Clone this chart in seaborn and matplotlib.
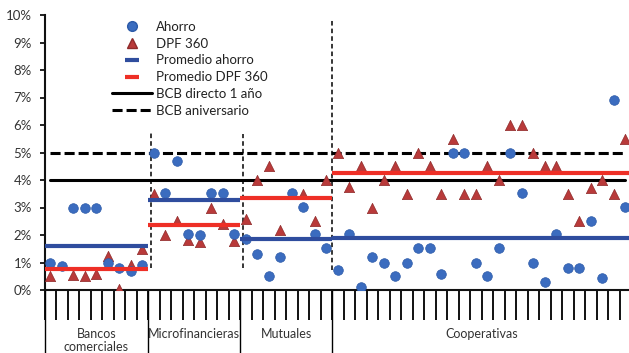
import numpy as np
import pandas as pd
import seaborn as sns
from matplotlib import pyplot as plt
from matplotlib.lines import Line2D
from matplotlib.ticker import PercentFormatter, MultipleLocator

# --- datos (en %) ---
grupos = ["Bancos\ncomerciales", "Microfinancieras", "Mutuales", "Cooperativas"]

ahorro_bancos = [1.0, 0.87, 3.0, 3.0, 3.0, 1.0, 0.8, 0.7, 0.9]
dpf_bancos = [0.5, np.nan, 0.55, 0.5, 0.6, 1.25, 0.05, 0.9, 1.5]

ahorro_micro = [5.0, 3.52, 4.7, 2.02, 2.0, 3.52, 3.52, 2.02]
dpf_micro = [3.5, 2.0, 2.52, 1.82, 1.75, 3.0, 2.4, 1.8]

ahorro_mutuales = [1.84, 1.31, 0.51, 1.21, 3.52, 3.02, 2.02, 1.52]
dpf_mutuales = [2.6, 4.0, 4.5, 2.2, 3.5, 3.5, 2.52, 4.0]

ahorro_coop = [0.73, 2.02, 0.1, 1.21, 1.0, 0.51, 1.0, 1.52, 1.52, 0.57, 5.0, 5.0, 1.0,
               0.51, 1.52, 5.0, 3.52, 1.0, 0.3, 2.02, 0.81, 0.81, 2.52, 0.42, 6.9, 3.02]
dpf_coop = [5.0, 3.76, 4.5, 3.0, 4.0, 4.5, 3.5, 5.0, 4.5, 3.5, 5.5, 3.5, 3.5,
            4.5, 4.0, 6.0, 6.0, 5.0, 4.5, 4.5, 3.5, 2.52, 3.7, 4.0, 3.5, 5.5]

prom_ahorro = [1.6, 3.28, 1.87, 1.9]
prom_dpf = [0.75, 2.35, 3.35, 4.25]

bcb_directo = 4.0
bcb_aniversario = 5.0

ahorro = [ahorro_bancos, ahorro_micro, ahorro_mutuales, ahorro_coop]
dpf = [dpf_bancos, dpf_micro, dpf_mutuales, dpf_coop]

AZUL = "#3b6cbf"
ROJO = "#b93a3a"
AZUL_PROM = "#2f4d9e"
ROJO_PROM = "#ee2f26"


def armar_df():
    filas = []
    pos = 0
    for g, a, d in zip(grupos, ahorro, dpf):
        for va, vd in zip(a, d):
            filas.append({"pos": pos, "grupo": g, "serie": "Ahorro", "valor": va})
            filas.append({"pos": pos, "grupo": g, "serie": "DPF 360", "valor": vd})
            pos += 1
    return pd.DataFrame(filas)


def main():
    sns.set_style("ticks")
    plt.rcParams["font.family"] = ["Lato", "DejaVu Sans"]

    df = armar_df()
    n = df["pos"].max() + 1
    tam = [len(a) for a in ahorro]
    bordes = np.concatenate([[0], np.cumsum(tam)]) - 0.5

    fig = plt.figure(figsize=(6.29, 3.53), dpi=100)
    ax = fig.add_axes([44.5 / 629, 63 / 353, 586.5 / 629, 275 / 353])

    # líneas BCB de referencia
    xs = np.arange(n)
    sns.lineplot(x=xs, y=[bcb_directo] * n, color="black", lw=2.2, ax=ax, zorder=1)
    sns.lineplot(x=xs, y=[bcb_aniversario] * n, color="black", lw=2.2, ax=ax, zorder=1,
                 linestyle=(0, (3.3, 1.3)))

    # puntos
    sns.scatterplot(data=df[df.serie == "DPF 360"], x="pos", y="valor", marker="^",
                    color=ROJO, edgecolor="#8e2a2a", linewidth=0.5, s=55, ax=ax,
                    zorder=3, legend=False)
    sns.scatterplot(data=df[df.serie == "Ahorro"], x="pos", y="valor", marker="o",
                    color=AZUL, edgecolor="#2c5aa8", linewidth=0.5, s=48, ax=ax,
                    zorder=3, legend=False)

    # promedios por grupo
    for i in range(len(grupos)):
        ax.hlines(prom_ahorro[i], bordes[i], bordes[i + 1], color=AZUL_PROM, lw=3, zorder=4)
        ax.hlines(prom_dpf[i], bordes[i], bordes[i + 1], color=ROJO_PROM, lw=3, zorder=4)

    # separadores punteados entre grupos
    for x, y0, y1 in [(8.8, 0.81, 5.78), (16.72, 0.81, 5.66), (24.52, 0.73, 9.88)]:
        ax.plot([x, x], [y0, y1], color="black", lw=1.1, linestyle=(0, (3, 2)), zorder=2)

    ax.set_xlim(-0.5, n - 0.5)
    ax.set_ylim(0, 10)
    ax.yaxis.set_major_locator(MultipleLocator(1))
    ax.yaxis.set_major_formatter(PercentFormatter(100, decimals=0))
    ax.set_xticks(np.arange(-0.5, n, 1))
    ax.set_xticklabels([])
    ax.tick_params(axis="x", length=21.6, width=1.4, color="#111111")
    ax.tick_params(axis="y", length=3.6, width=1.3, pad=5.5, labelsize=9.5,
                   labelcolor="#333333", color="#111111")
    ax.set_xlabel("")
    ax.set_ylabel("")
    for s in ["top", "right"]:
        ax.spines[s].set_visible(False)
    for s in ["left", "bottom"]:
        ax.spines[s].set_linewidth(1.5)
        ax.spines[s].set_color("#111111")

    # etiquetas de grupo debajo del eje
    trans = ax.get_xaxis_transform()
    for b in bordes[:-1]:
        ax.plot([b, b], [0, -0.25], color="black", lw=1.0, transform=trans, clip_on=False)
    for i, g in enumerate(grupos):
        centro = (bordes[i] + bordes[i + 1]) / 2
        ax.text(centro, -0.137, g, transform=trans, ha="center", va="top", fontsize=9,
                color="#333333", linespacing=1.12)

    # título recortado en el borde superior, como en el original
    fig.text(0.508, 1.003, "Junio 2013", ha="center", va="baseline", fontsize=14,
             fontweight="bold", color="#222222")

    handles = [
        Line2D([], [], marker="o", color=AZUL, markeredgecolor="#2c5aa8", ls="none", markersize=7),
        Line2D([], [], marker="^", color=ROJO, markeredgecolor="#8e2a2a", ls="none", markersize=7.5),
        Line2D([], [], marker="_", color=AZUL_PROM, ls="none", markersize=10, markeredgewidth=3),
        Line2D([], [], marker="_", color=ROJO_PROM, ls="none", markersize=10, markeredgewidth=3),
        Line2D([], [], color="black", lw=2.2),
        Line2D([], [], color="black", lw=2.2, ls=(0, (3.3, 1.3))),
    ]
    etiquetas = ["Ahorro", "DPF 360", "Promedio ahorro", "Promedio DPF 360",
                 "BCB directo 1 año", "BCB aniversario"]
    fig.legend(handles, etiquetas, loc="upper left", bbox_to_anchor=(112 / 629, 1 - 21 / 353),
               frameon=False, fontsize=9.5, handlelength=3.05, handletextpad=0.25,
               labelspacing=0.36, borderpad=0, borderaxespad=0, labelcolor="#222222")

    fig.savefig("out.png", dpi=100)


if __name__ == "__main__":
    main()
